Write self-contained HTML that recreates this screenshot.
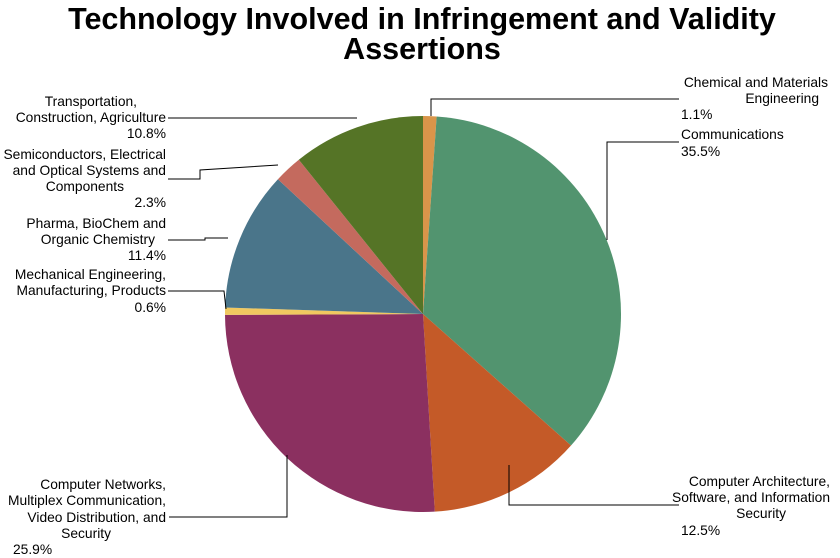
<!DOCTYPE html>
<html><head><meta charset="utf-8"><style>
body{margin:0;background:#fff;}
svg{display:block;font-family:"Liberation Sans",sans-serif;}
.t{font-size:13.8px;fill:#000;}
</style></head><body>
<svg id="s" width="840" height="558" viewBox="0 0 840 558" xmlns="http://www.w3.org/2000/svg">
<text x="422" y="29" text-anchor="middle" font-size="30.5" font-weight="bold">Technology Involved in Infringement and Validity</text>
<text x="422" y="59" text-anchor="middle" font-size="30.5" font-weight="bold">Assertions</text>
<g id="pie"></g>
<g stroke="#000" stroke-width="1" fill="none">
<polyline points="431,116 431,99 679,99"/>
<polyline points="607,240 607,142 679,142"/>
<polyline points="509,465 509,505 679,505"/>
<polyline points="287,455 287,517 169,517"/>
<polyline points="226,309 224,291 168,291"/>
<polyline points="228,238 205,238 205,240 168,240"/>
<polyline points="278,165 200,170 200,179 168,179"/>
<polyline points="357,118 168,118"/>
</g>
<g class="t">
<text x="828" y="87" text-anchor="end">Chemical and Materials</text>
<text x="819" y="103" text-anchor="end">Engineering</text>
<text x="681" y="119">1.1%</text>
<text x="681" y="139">Communications</text>
<text x="681" y="156">35.5%</text>
<text x="830" y="486" text-anchor="end">Computer Architecture,</text>
<text x="830" y="502" text-anchor="end">Software, and Information</text>
<text x="786" y="518" text-anchor="end">Security</text>
<text x="681" y="535">12.5%</text>
<text x="166" y="489" text-anchor="end">Computer Networks,</text>
<text x="166" y="505" text-anchor="end">Multiplex Communication,</text>
<text x="166" y="522" text-anchor="end">Video Distribution, and</text>
<text x="111" y="538" text-anchor="end">Security</text>
<text x="13" y="554">25.9%</text>
<text x="166" y="279" text-anchor="end">Mechanical Engineering,</text>
<text x="166" y="295" text-anchor="end">Manufacturing, Products</text>
<text x="166" y="312" text-anchor="end">0.6%</text>
<text x="166" y="228" text-anchor="end">Pharma, BioChem and</text>
<text x="155" y="244" text-anchor="end">Organic Chemistry</text>
<text x="166" y="260" text-anchor="end">11.4%</text>
<text x="166" y="159" text-anchor="end">Semiconductors, Electrical</text>
<text x="166" y="175" text-anchor="end">and Optical Systems and</text>
<text x="124" y="191" text-anchor="end">Components</text>
<text x="166" y="207" text-anchor="end">2.3%</text>
<text x="137" y="106" text-anchor="end">Transportation,</text>
<text x="166" y="122" text-anchor="end">Construction, Agriculture</text>
<text x="166" y="138" text-anchor="end">10.8%</text>
</g>
</svg>
<script>
var d=[[1.1,"#D9954A"],[35.5,"#52946F"],[12.5,"#C45A28"],[25.9,"#8B3060"],[0.6,"#F0C860"],[11.4,"#4A758A"],[2.3,"#C46A5E"],[10.8,"#557426"]];
var cx=423,cy=314,r=198,a=-Math.PI/2,tot=100.1,g=document.getElementById("pie"),h="";
d.forEach(function(s){var b=a+s[0]/tot*2*Math.PI;
var x1=cx+r*Math.cos(a),y1=cy+r*Math.sin(a),x2=cx+r*Math.cos(b),y2=cy+r*Math.sin(b);
h+='<path d="M'+cx+','+cy+'L'+x1+','+y1+'A'+r+','+r+' 0 '+((b-a)>Math.PI?1:0)+' 1 '+x2+','+y2+'Z" fill="'+s[1]+'"/>';a=b;});
g.innerHTML=h;
</script>
</body></html>
